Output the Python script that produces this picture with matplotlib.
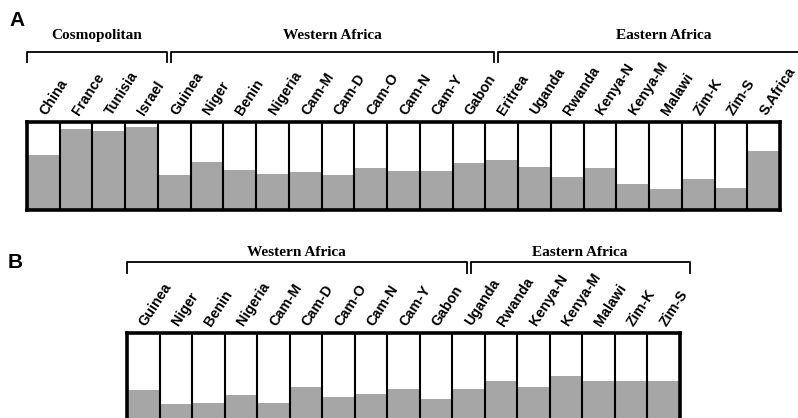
import matplotlib
matplotlib.use("Agg")
import matplotlib.pyplot as plt
import matplotlib.transforms as mtransforms

# ---------------- Data ----------------
# panel A: share of the grey component per population (fraction of box height)
regions_a = ["China", "France", "Tunisia", "Israel", "Guinea", "Niger", "Benin",
             "Nigeria", "Cam-M", "Cam-D", "Cam-O", "Cam-N", "Cam-Y", "Gabon",
             "Eritrea", "Uganda", "Rwanda", "Kenya-N", "Kenya-M", "Malawi",
             "Zim-K", "Zim-S", "S.Africa"]
share_a = [0.62, 0.92, 0.90, 0.94, 0.40, 0.55, 0.46, 0.41, 0.43, 0.40, 0.48,
           0.44, 0.44, 0.53, 0.57, 0.49, 0.37, 0.48, 0.29, 0.24, 0.35, 0.25, 0.675]
groups_a = ["Cosmopolitan", "Western Africa", "Eastern Africa"]
group_sizes_a = [4, 10, 9]

# panel B
regions_b = ["Guinea", "Niger", "Benin", "Nigeria", "Cam-M", "Cam-D", "Cam-O",
             "Cam-N", "Cam-Y", "Gabon", "Uganda", "Rwanda", "Kenya-N", "Kenya-M",
             "Malawi", "Zim-K", "Zim-S"]
share_b = [0.35, 0.19, 0.20, 0.30, 0.21, 0.39, 0.275, 0.31, 0.36, 0.25, 0.36,
           0.45, 0.39, 0.51, 0.45, 0.46, 0.45]
groups_b = ["Western Africa", "Eastern Africa"]
group_sizes_b = [10, 7]

GRAY = "#a6a6a6"
LABEL_FONT = "Liberation Sans"
GROUP_FONT = "Liberation Serif"


def draw_panel(ax, names, values, groups, sizes, shift, end, y_line, y_tick, y_text):
    n = len(names)
    ax.bar(range(n), values, width=1.0, align="edge", color=GRAY, edgecolor="none")
    for i in range(1, n):
        ax.axvline(i, color="black", lw=1.5)
    ax.set_xlim(0, n)
    ax.set_ylim(0, 1)
    ax.set_xticks([])
    ax.set_yticks([])
    for s in ax.spines.values():
        s.set_linewidth(2.6)

    trans = mtransforms.blended_transform_factory(ax.transData, ax.transAxes)
    for i, name in enumerate(names):
        ax.text(i + 0.58, 1.07, name, transform=trans, rotation=57,
                rotation_mode="anchor", ha="left", va="baseline",
                fontsize=10.3, fontweight="bold", family=LABEL_FONT)

    # group brackets
    gap = 0.06
    start = 0.0
    cum = 0
    for k, (g, size) in enumerate(zip(groups, sizes)):
        cum += size
        x0 = start + (gap if k > 0 else 0)
        x1 = end if k == len(groups) - 1 else cum + shift - gap
        ax.plot([x0, x0, x1, x1], [y_tick, y_line, y_line, y_tick], color="black",
                lw=1.3, transform=trans, clip_on=False)
        ax.text((x0 + x1) / 2, y_text, g, transform=trans, ha="center", va="center",
                fontsize=11, fontweight="bold", family=GROUP_FONT)
        start = cum + shift


fig = plt.figure(figsize=(7.98, 4.18), dpi=100)

ax_a = fig.add_axes([27 / 798, 1 - 210 / 418, 753 / 798, 88 / 418])
draw_panel(ax_a, regions_a, share_a, groups_a, group_sizes_a,
           shift=0.33, end=24.5, y_line=1.795, y_tick=1.68, y_text=1.98)

ax_b = fig.add_axes([127 / 798, 1 - 421 / 418, 553 / 798, 88 / 418])
draw_panel(ax_b, regions_b, share_b, groups_b, group_sizes_b,
           shift=0.5, end=17.3, y_line=1.807, y_tick=1.68, y_text=1.92)

fig.text(17 / 798, 1 - 20 / 418, "A", fontsize=15, fontweight="bold",
         family=LABEL_FONT, ha="center", va="center")
fig.text(15 / 798, 1 - 262 / 418, "B", fontsize=15, fontweight="bold",
         family=LABEL_FONT, ha="center", va="center")

fig.savefig("out.png", dpi=100)
